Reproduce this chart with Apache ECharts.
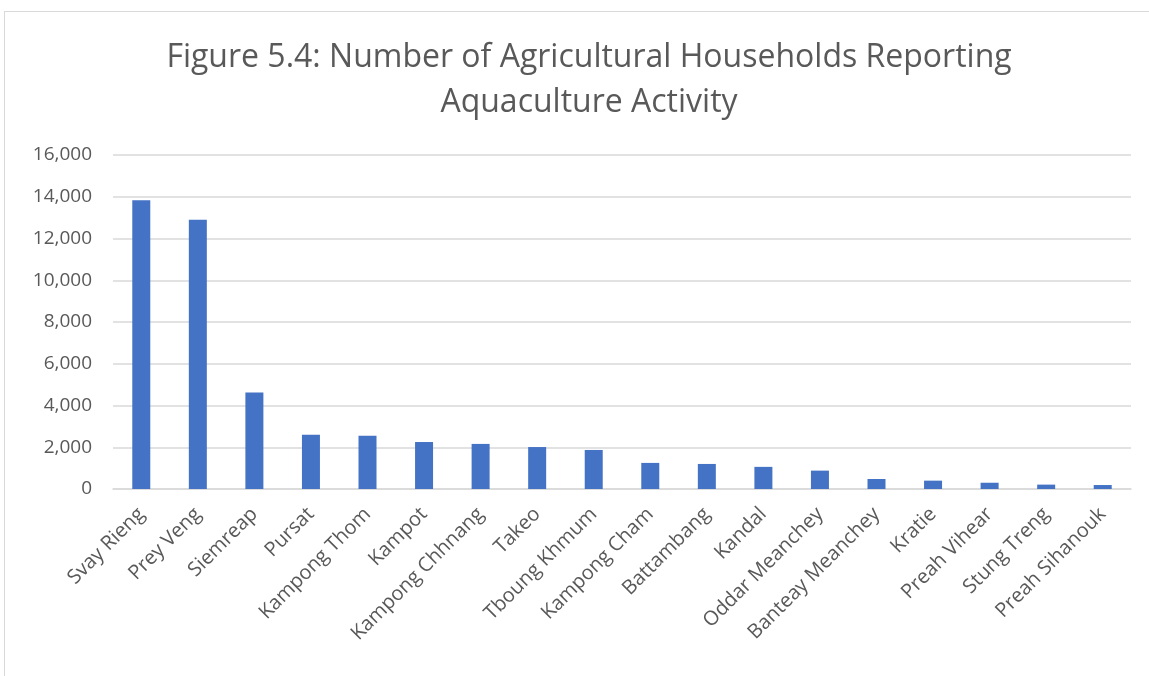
<!DOCTYPE html>
<html>
<head>
<meta charset="utf-8">
<script src="https://cdn.jsdelivr.net/npm/echarts@6/dist/echarts.min.js"></script>
<style>
html,body{margin:0;padding:0;background:#fff;}
#frame{position:absolute;left:4px;top:11px;width:1160px;height:680px;border:1px solid #d9d9d9;box-sizing:border-box;}
#chart{position:absolute;left:0;top:0;width:1149px;height:676px;}
</style>
</head>
<body>
<div id="frame"></div>
<div id="chart"></div>
<script>
const titleLines = ["Figure 5.4: Number of Agricultural Households Reporting", "Aquaculture Activity"];
const provinces = ["Svay Rieng","Prey Veng","Siemreap","Pursat","Kampong Thom","Kampot","Kampong Chhnang","Takeo","Tboung Khmum","Kampong Cham","Battambang","Kandal","Oddar Meanchey","Banteay Meanchey","Kratie","Preah Vihear","Stung Treng","Preah Sihanouk"];
const households = [13830,12900,4620,2600,2550,2250,2160,2010,1870,1250,1200,1060,880,480,400,300,210,190];
const yMin = 0, yMax = 16000, yStep = 2000;

const chart = echarts.init(document.getElementById('chart'), null, {renderer:'canvas'});
chart.setOption({
  animation:false,
  backgroundColor:'transparent',
  title:{
    text: titleLines.join('\n'),
    left: 584, top: 30, textAlign:'center',
    textStyle:{fontFamily:'Open Sans', fontSize:32, fontWeight:'normal', color:'#595959', lineHeight:45}
  },
  grid:{left:113, right:18, top:155, bottom:187, containLabel:false},
  xAxis:{
    type:'category', data: provinces,
    axisLine:{lineStyle:{color:'#d9d9d9', width:1.5}},
    axisTick:{show:false},
    axisLabel:{rotate:45, interval:0, margin:22, color:'#595959', fontFamily:'Open Sans', fontSize:20}
  },
  yAxis:{
    type:'value', min:yMin, max:yMax, interval:yStep,
    axisLine:{show:false}, axisTick:{show:false},
    splitLine:{lineStyle:{color:'#d9d9d9', width:1.5}},
    axisLabel:{margin:21, color:'#595959', fontFamily:'Open Sans', fontSize:19,
      formatter: v => v.toLocaleString('en-US')}
  },
  series:[{
    type:'bar', data: households, barWidth:18,
    itemStyle:{color:'#4472c4'}
  }]
});
</script>
</body>
</html>
